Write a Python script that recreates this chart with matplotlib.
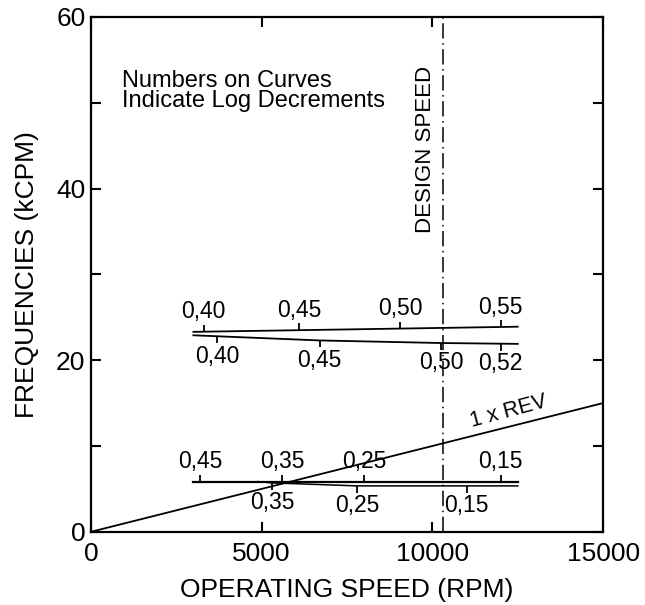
import numpy as np
import matplotlib
matplotlib.use("Agg")
import matplotlib.pyplot as plt

plt.rcParams['font.family'] = ['Liberation Sans', 'DejaVu Sans']

# curve data (speed in RPM, frequency in kCPM)
upper_a_x = [3000, 12500]
upper_a_y = [23.3, 23.9]
upper_b_x = [3000, 6700, 10250, 12500]
upper_b_y = [22.9, 22.3, 22.0, 21.9]
lower_a_x = [3000, 12500]
lower_a_y = [5.85, 5.85]
lower_b_x = [4900, 5300, 7800, 12500]
lower_b_y = [5.85, 5.7, 5.35, 5.35]

# log decrement marks on each curve
ua_marks = [3300, 6100, 9050, 12000]
ua_labels = ['0,40', '0,45', '0,50', '0,55']
ub_marks = [3700, 6700, 10250, 12000]
ub_labels = ['0,40', '0,45', '0,50', '0,52']
la_marks = [3200, 5600, 8000, 12000]
la_labels = ['0,45', '0,35', '0,25', '0,15']
lb_marks = [5300, 7800, 11000]
lb_labels = ['0,35', '0,25', '0,15']

rev_x = [0, 15000]
rev_y = [0, 15]
design_speed = 10300

fig = plt.figure(figsize=(6.45, 6.05), dpi=100)
ax = fig.add_axes([0.141, 0.121, 0.794, 0.851])

ax.plot(upper_a_x, upper_a_y, color='black', lw=1.3)
ax.plot(upper_b_x, upper_b_y, color='black', lw=1.3)
ax.plot(lower_a_x, lower_a_y, color='black', lw=1.6)
ax.plot(lower_b_x, lower_b_y, color='black', lw=1.1)
ax.plot(rev_x, rev_y, color='black', lw=1.3)
ax.axvline(design_speed, color='black', lw=1.1, linestyle=(0, (10, 3, 1, 3)))


def mark_curve(cx, cy, marks, labels, above):
    my = np.interp(marks, cx, cy)
    ax.plot(marks, my, linestyle='none', marker=2 if above else 3,
            markersize=5, mew=1.3, color='black')
    for mx, yy, lab in zip(marks, my, labels):
        ax.annotate(lab, (mx, yy), xytext=(0, 6 if above else -6),
                    textcoords='offset points', ha='center',
                    va='bottom' if above else 'top', fontsize=16.5)


mark_curve(upper_a_x, upper_a_y, ua_marks, ua_labels, True)
mark_curve(upper_b_x, upper_b_y, ub_marks, ub_labels, False)
mark_curve(lower_a_x, lower_a_y, la_marks, la_labels, True)
mark_curve(lower_b_x, lower_b_y, lb_marks, lb_labels, False)

ax.text(900, 53.8, 'Numbers on Curves\nIndicate Log Decrements',
        fontsize=17, ha='left', va='top', linespacing=0.88)
ax.text(design_speed - 180, 34.8, 'DESIGN SPEED', rotation=90,
        fontsize=16, ha='right', va='bottom')
ax.text(12300, 12.8, '1 x REV', rotation=15, fontsize=15.5,
        ha='center', va='bottom', rotation_mode='anchor')

ax.set_xlim(0, 15000)
ax.set_ylim(0, 60)
ax.set_xticks([0, 5000, 10000, 15000])
ax.set_yticks([0, 10, 20, 30, 40, 50, 60])
ax.set_yticklabels(['0', '', '20', '', '40', '', '60'])
ax.tick_params(direction='in', top=True, right=True, length=7, width=1.5,
               labelsize=19, pad=4)
ax.tick_params(axis='x', pad=7)
for s in ax.spines.values():
    s.set_linewidth(1.6)

ax.set_xlabel('OPERATING SPEED (RPM)', fontsize=19, labelpad=9)
ax.set_ylabel('FREQUENCIES (kCPM)', fontsize=19, labelpad=12)

fig.savefig('out.png', dpi=100)
